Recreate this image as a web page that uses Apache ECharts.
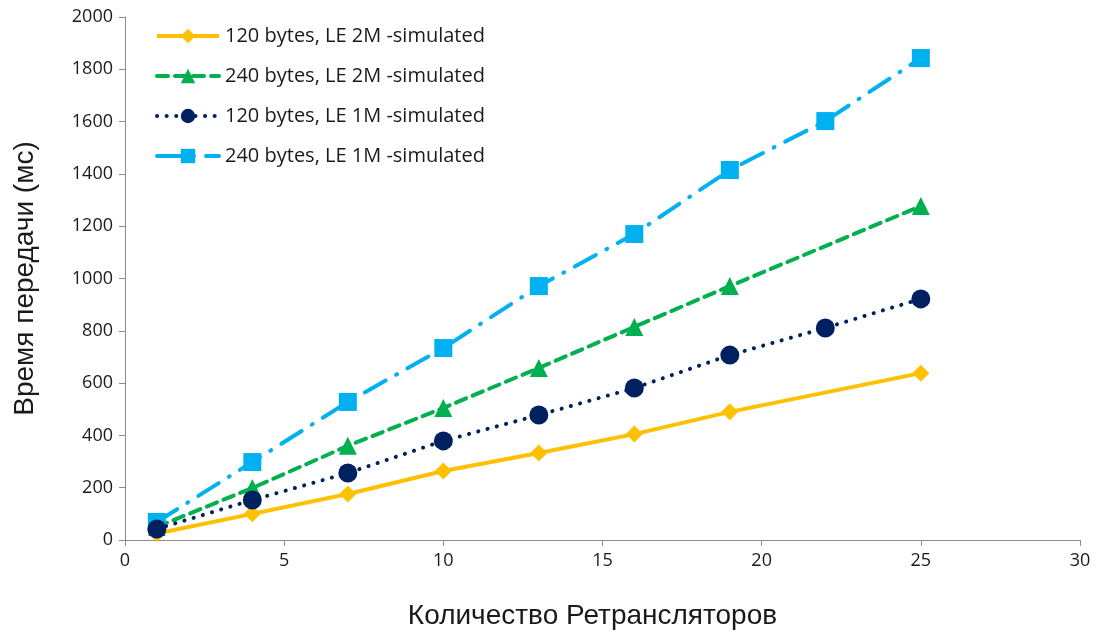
<!DOCTYPE html>
<html>
<head>
<meta charset="utf-8">
<script src="https://cdn.jsdelivr.net/npm/echarts@6/dist/echarts.min.js"></script>
<style>
  html, body { margin: 0; padding: 0; background: #fff; }
  #chart { width: 1103px; height: 632px; }
</style>
</head>
<body>
<div id="chart"></div>
<script>
// Number of relays (x) and transfer times in ms for each configuration
const xAll = [1, 4, 7, 10, 13, 16, 19, 22, 25];
const xNo22 = [1, 4, 7, 10, 13, 16, 19, 25];

const le2m120 = [25, 100, 176, 264, 333, 405, 490, 638];
const le2m240 = [50, 199, 360, 505, 658, 815, 971, 1277];
const le1m120 = [42, 153, 256, 379, 478, 581, 707, 811, 922];
const le1m240 = [69, 298, 528, 734, 971, 1170, 1415, 1602, 1843];

const seriesNames = [
  '120 bytes, LE 2M -simulated',
  '240 bytes, LE 2M -simulated',
  '120 bytes, LE 1M -simulated',
  '240 bytes, LE 1M -simulated'
];

const yTicks = [0, 200, 400, 600, 800, 1000, 1200, 1400, 1600, 1800, 2000];
const xTicks = [0, 5, 10, 15, 20, 25, 30];

const pairs = (xs, ys) => xs.map((x, i) => [x, ys[i]]);

const FONT = '"Open Sans", "Noto Sans", sans-serif';
const TITLE_FONT = '"Liberation Sans", Arial, sans-serif';
const chart = echarts.init(document.getElementById('chart'));

chart.setOption({
  animation: false,
  backgroundColor: '#ffffff',
  textStyle: { fontFamily: FONT },
  grid: { left: 125, right: 23, top: 17, bottom: 92, containLabel: false, outerBoundsMode: 'none' },
  legend: {
    orient: 'vertical',
    left: 150,
    top: 21,
    itemWidth: 62,
    itemHeight: 18,
    itemGap: 20,
    lineStyle: { width: 4 },
    textStyle: { fontFamily: FONT, fontSize: 20, color: '#1a1a1a', padding: [0, 0, 0, 1] },
    data: seriesNames
  },
  xAxis: {
    type: 'value',
    min: xTicks[0],
    max: xTicks[xTicks.length - 1],
    interval: 5,
    name: 'Количество Ретрансляторов',
    nameLocation: 'middle',
    nameGap: 62,
    nameTextStyle: { fontFamily: TITLE_FONT, fontSize: 28, color: '#1a1a1a', padding: [0, 20, 0, 0] },
    axisLine: { lineStyle: { color: '#8c8c8c', width: 1 } },
    axisTick: { show: true, length: 6, lineStyle: { color: '#8c8c8c' } },
    axisLabel: { fontFamily: FONT, fontSize: 18, color: '#1a1a1a', margin: 12 },
    splitLine: { show: false }
  },
  yAxis: {
    type: 'value',
    min: yTicks[0],
    max: yTicks[yTicks.length - 1],
    interval: 200,
    name: 'Время передачи (мс)',
    nameLocation: 'middle',
    nameGap: 86,
    nameRotate: 90,
    nameTextStyle: { fontFamily: TITLE_FONT, fontSize: 28, color: '#1a1a1a' },
    axisLine: { show: true, lineStyle: { color: '#8c8c8c', width: 1 } },
    axisTick: { show: true, length: 6, lineStyle: { color: '#8c8c8c' } },
    axisLabel: {
      fontFamily: FONT, fontSize: 18, color: '#1a1a1a', margin: 12,
      formatter: (v) => String(v)
    },
    splitLine: { show: false }
  },
  series: [
    {
      name: seriesNames[3],
      type: 'line',
      data: pairs(xAll, le1m240),
      symbol: 'rect',
      symbolSize: 18,
      itemStyle: { color: '#00B0F0' },
      lineStyle: { color: '#00B0F0', width: 4, type: [24, 12, 1, 12], cap: 'round' },
      z: 4
    },
    {
      name: seriesNames[1],
      type: 'line',
      data: pairs(xNo22, le2m240),
      symbol: 'triangle',
      symbolSize: 18,
      itemStyle: { color: '#00B050' },
      lineStyle: { color: '#00B050', width: 4, type: [11, 7], cap: 'round' },
      z: 3
    },
    {
      name: seriesNames[2],
      type: 'line',
      data: pairs(xAll, le1m120),
      symbol: 'circle',
      symbolSize: 19,
      itemStyle: { color: '#002060' },
      lineStyle: { color: '#002060', width: 4, type: [0.1, 9.5], cap: 'round' },
      z: 5
    },
    {
      name: seriesNames[0],
      type: 'line',
      data: pairs(xNo22, le2m120),
      symbol: 'diamond',
      symbolSize: 17,
      itemStyle: { color: '#FFC000' },
      lineStyle: { color: '#FFC000', width: 4 },
      z: 2
    }
  ]
});
</script>
</body>
</html>
